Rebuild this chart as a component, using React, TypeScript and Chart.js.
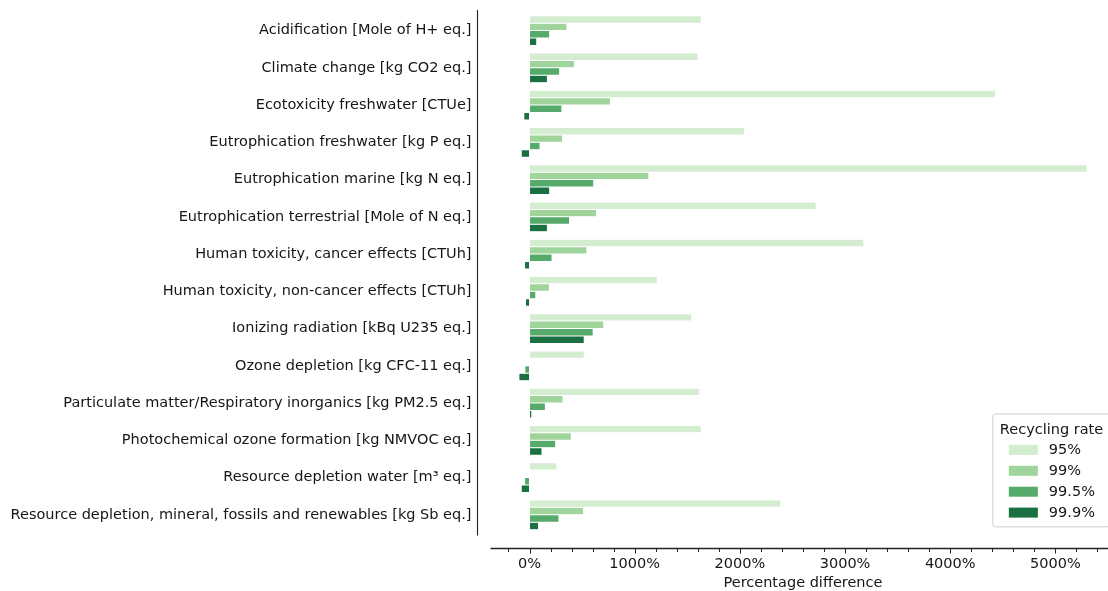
import React, { useEffect, useRef } from 'react';
import { Chart, registerables } from 'chart.js';

Chart.register(...registerables);

const categories = [
  'Acidification [Mole of H+ eq.]',
  'Climate change [kg CO2 eq.]',
  'Ecotoxicity freshwater [CTUe]',
  'Eutrophication freshwater [kg P eq.]',
  'Eutrophication marine [kg N eq.]',
  'Eutrophication terrestrial [Mole of N eq.]',
  'Human toxicity, cancer effects [CTUh]',
  'Human toxicity, non-cancer effects [CTUh]',
  'Ionizing radiation [kBq U235 eq.]',
  'Ozone depletion [kg CFC-11 eq.]',
  'Particulate matter/Respiratory inorganics [kg PM2.5 eq.]',
  'Photochemical ozone formation [kg NMVOC eq.]',
  'Resource depletion water [m³ eq.]',
  'Resource depletion, mineral, fossils and renewables [kg Sb eq.]',
];

const seriesLabels = ['95%', '99%', '99.5%', '99.9%'];

const rate95 = [1633, 1602, 4430, 2046, 5301, 2725, 3179, 1214, 1542, 520, 1618, 1633, 261, 2390];
const rate99 = [356, 429, 769, 315, 1135, 637, 545, 189, 706, 10, 318, 397, -6, 514];
const rate995 = [192, 287, 308, 100, 611, 381, 214, 60, 605, -44, 151, 249, -47, 280];
const rate999 = [69, 170, -54, -79, 192, 170, -47, -38, 520, -101, 22, 119, -79, 85];

const seriesColors = ['#d4ecd0', '#9fd59a', '#56ab6b', '#1a7040'];

const xMajorTicks = [0, 1000, 2000, 3000, 4000, 5000];
const xMinorTicks = [-200, 200, 400, 600, 800, 1200, 1400, 1600, 1800, 2200, 2400, 2600, 2800, 3200, 3400, 3600, 3800, 4200, 4400, 4600, 4800, 5200, 5400];
const xMin = -371;
const xMax = 5571;

const FONT = '"DejaVu Sans", sans-serif';
const FSIZE = 14.5;
const TEXT = '#161616';

const spinePlugin = {
  id: 'spines',
  afterDraw(chart: any) {
    const { ctx, chartArea, scales } = chart;
    const xs = scales.x;
    ctx.save();
    ctx.strokeStyle = '#222';
    ctx.lineWidth = 1.1;
    const sx = Math.round(chartArea.left - 14) + 0.5;
    ctx.beginPath();
    ctx.moveTo(sx, chartArea.top - 2);
    ctx.lineTo(sx, chartArea.bottom + 2);
    ctx.stroke();
    const sy = Math.round(chartArea.bottom + 14.6) + 0.5;
    ctx.lineWidth = 1.3;
    ctx.beginPath();
    ctx.moveTo(chartArea.left, sy);
    ctx.lineTo(chartArea.right, sy);
    ctx.stroke();
    ctx.lineWidth = 1;
    for (const t of xs.ticks) {
      const px = Math.round(xs.getPixelForValue(t.value)) + 0.5;
      const major = xMajorTicks.includes(t.value);
      ctx.beginPath();
      ctx.moveTo(px, sy);
      ctx.lineTo(px, sy + (major ? 5 : 3.5));
      ctx.stroke();
    }
    ctx.restore();
  },
};

const legendPlugin = {
  id: 'customLegend',
  afterDraw(chart: any) {
    const { ctx, chartArea } = chart;
    const left = chartArea.right - 122.6;
    const top = chartArea.bottom - 119.5;
    const w = 117;
    const h = 113;
    ctx.save();
    ctx.fillStyle = 'rgba(255,255,255,0.9)';
    ctx.strokeStyle = '#cccccc';
    ctx.lineWidth = 1;
    ctx.beginPath();
    const r = 3;
    ctx.moveTo(left + r, top);
    ctx.lineTo(left + w - r, top);
    ctx.quadraticCurveTo(left + w, top, left + w, top + r);
    ctx.lineTo(left + w, top + h - r);
    ctx.quadraticCurveTo(left + w, top + h, left + w - r, top + h);
    ctx.lineTo(left + r, top + h);
    ctx.quadraticCurveTo(left, top + h, left, top + h - r);
    ctx.lineTo(left, top + r);
    ctx.quadraticCurveTo(left, top, left + r, top);
    ctx.closePath();
    ctx.fill();
    ctx.stroke();

    ctx.fillStyle = TEXT;
    ctx.font = `${FSIZE}px ${FONT}`;
    ctx.textBaseline = 'middle';
    ctx.textAlign = 'left';
    ctx.fillText('Recycling rate', left + 7, top + 16.5);
    chart.data.datasets.forEach((ds: any, i: number) => {
      const cy = top + 36 + i * 20.9;
      ctx.fillStyle = ds.backgroundColor;
      ctx.fillRect(left + 16, cy - 5, 29, 10);
      ctx.fillStyle = TEXT;
      ctx.fillText(ds.label, left + 56, cy + 0.5);
    });
    ctx.restore();
  },
};

export default function App() {
  const ref = useRef<HTMLCanvasElement | null>(null);

  useEffect(() => {
    if (!ref.current) return;
    const seriesValues = [rate95, rate99, rate995, rate999];
    const chart = new Chart(ref.current, {
      type: 'bar',
      data: {
        labels: categories,
        datasets: seriesLabels.map((label, i) => ({
          label,
          data: seriesValues[i],
          backgroundColor: seriesColors[i],
          borderColor: '#ffffff',
          borderWidth: 0.5,
          borderSkipped: false,
          barPercentage: 1.0,
          categoryPercentage: 0.8,
        })),
      },
      options: {
        indexAxis: 'y',
        animation: false,
        responsive: false,
        layout: { autoPadding: false, padding: { top: 12, right: 1.4, bottom: 0, left: 0 } },
        plugins: {
          legend: { display: false },
          tooltip: { enabled: false },
        },
        scales: {
          y: {
            type: 'category',
            offset: true,
            grid: { display: true, drawOnChartArea: false, drawTicks: true, tickLength: 19, tickColor: 'rgba(0,0,0,0)', color: 'rgba(0,0,0,0)' },
            border: { display: false },
            ticks: {
              color: TEXT,
              font: { family: FONT, size: FSIZE },
              padding: 0,
              autoSkip: false,
            },
            afterFit: (s: any) => {
              s.width = 490.5;
            },
          },
          x: {
            type: 'linear',
            min: xMin,
            max: xMax,
            grid: { display: false, drawTicks: false },
            border: { display: false },
            afterBuildTicks: (s: any) => {
              const vals = [...xMajorTicks, ...xMinorTicks].sort((a, b) => a - b);
              s.ticks = vals.map((v) => ({ value: v }));
            },
            ticks: {
              color: TEXT,
              font: { family: FONT, size: FSIZE },
              padding: 22.5,
              autoSkip: false,
              maxRotation: 0,
              callback: (v: any) => (xMajorTicks.includes(Number(v)) ? `${v}%` : ''),
            },
            title: {
              display: true,
              text: 'Percentage difference',
              color: TEXT,
              font: { family: FONT, size: FSIZE, lineHeight: 1 },
              padding: { top: 0, bottom: 0.5 },
            },
            afterFit: (s: any) => {
              s.height = 57.6;
            },
          },
        },
      },
      plugins: [spinePlugin, legendPlugin],
    });
    return () => chart.destroy();
  }, []);

  return (
    <div style={{ position: 'fixed', left: 0, top: 0, width: 1108, height: 591, overflow: 'hidden', background: '#fff' }}>
      <canvas ref={ref} width={1120} height={591} style={{ width: 1120, height: 591, display: 'block' }} />
    </div>
  );
}
